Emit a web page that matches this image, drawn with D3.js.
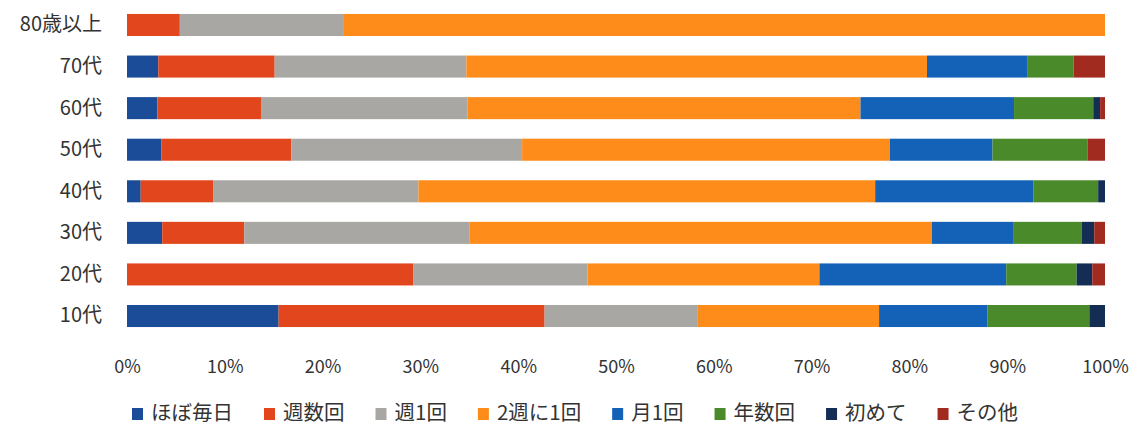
<!DOCTYPE html>
<html><head><meta charset="utf-8">
<script src="https://cdn.jsdelivr.net/npm/d3@7/dist/d3.min.js"></script>
<style>
body{margin:0;background:#fff;}
text{font-family:"Noto Sans CJK JP","Noto Sans",sans-serif;fill:#333;}
</style></head>
<body><svg id="c" width="1142" height="427"></svg>
<script>
const categories = ["80歳以上","70代","60代","50代","40代","30代","20代","10代"];
const seriesNames = ["ほぼ毎日","週数回","週1回","2週に1回","月1回","年数回","初めて","その他"];
const colors = ["#1b4c97","#e2461c","#a9a7a3","#fd8c1a","#1462b7","#4a8a2b","#142d55","#a12b1f"];
// values per series (%), in category order
const hobo   = [0,   3.2, 3.1, 3.5, 1.4, 3.6, 0,   15.5];
const shusu  = [5.4, 11.9,10.6,13.3,7.4, 8.4, 29.3,27.2];
const shu1   = [16.7,19.6,21.1,23.6,21.0,23.0,17.8,15.6];
const shu2   = [77.9,47.1,40.2,37.6,46.7,47.3,23.7,18.6];
const tsuki1 = [0,   10.3,15.7,10.5,16.2,8.3, 19.1,11.1];
const nensu  = [0,   4.7, 8.1, 9.7, 6.6, 7.0, 7.2, 10.4];
const hajime = [0,   0,   0.7, 0,   0.7, 1.3, 1.6, 1.6];
const sonota = [0,   3.2, 0.5, 1.8, 0,   1.1, 1.3, 0];
const tickValues = [0,10,20,30,40,50,60,70,80,90,100];
const tickLabels = ["0%","10%","20%","30%","40%","50%","60%","70%","80%","90%","100%"];

const seriesVals = [hobo,shusu,shu1,shu2,tsuki1,nensu,hajime,sonota];
const rows = categories.map((c,i)=>{
  const o={cat:c};
  seriesNames.forEach((s,j)=>o[s]=seriesVals[j][i]);
  return o;
});
const stack = d3.stack().keys(seriesNames).offset(d3.stackOffsetExpand)(rows);

const svg = d3.select("#c");
const x = d3.scaleLinear().domain([0,1]).range([127,1105]);
const y = d3.scaleBand().domain(categories).range([4.2,336.8]).paddingInner(0.47).paddingOuter(0.235);

svg.append("g").selectAll("g").data(stack).join("g")
  .attr("fill",(d,i)=>colors[i])
  .selectAll("rect").data(d=>d).join("rect")
  .attr("x",d=>x(d[0])).attr("width",d=>Math.max(0,x(d[1])-x(d[0])))
  .attr("y",d=>y(d.data.cat)).attr("height",y.bandwidth());

// category labels
const yAxis = d3.axisLeft(y).tickSize(0).tickPadding(0);
const gy = svg.append("g").attr("transform","translate(102,0)").call(yAxis);
gy.select(".domain").remove();
gy.selectAll("text").style("font-size","20px").attr("fill","#222");

// x axis
const xAxis = d3.axisBottom(x).tickValues(tickValues.map(v=>v/100)).tickFormat((d,i)=>tickLabels[i]).tickSize(0).tickPadding(0);
const gx = svg.append("g").attr("transform","translate(0,360)").call(xAxis);
gx.select(".domain").remove();
gx.selectAll("text").style("font-size","18px").attr("fill","#333");

// legend
const leg = svg.append("g").attr("transform","translate(0,413)");
let cx = 132;
seriesNames.forEach((s,i)=>{
  leg.append("rect").attr("x",cx).attr("y",-5).attr("width",11).attr("height",12).attr("fill",colors[i]);
  const t = leg.append("text").attr("x",cx+19).attr("y",0).attr("dy","0.35em")
    .style("font-size","20.5px").attr("fill","#333").text(s);
  cx += 19 + t.node().getComputedTextLength() + 31;
});
</script></body></html>
